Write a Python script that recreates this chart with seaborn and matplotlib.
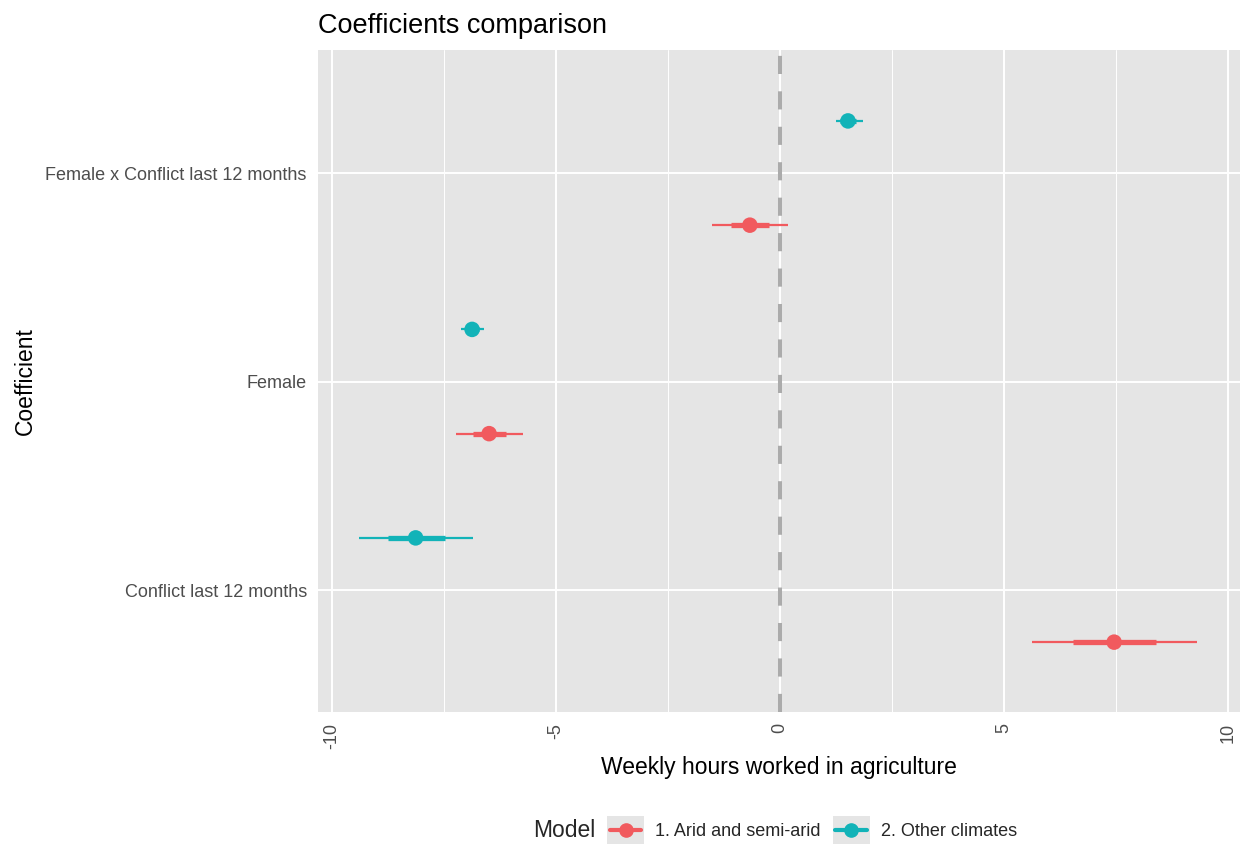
import numpy as np
import pandas as pd
import matplotlib
matplotlib.use("Agg")
import matplotlib.pyplot as plt
import seaborn as sns
from matplotlib.lines import Line2D
from matplotlib.patches import Rectangle
from matplotlib.legend_handler import HandlerBase

# ---- data ----
coefficients = ["Female x Conflict last 12 months", "Female", "Conflict last 12 months"]
models = ["1. Arid and semi-arid", "2. Other climates"]
estimate_arid = [-0.67, -6.49, 7.46]
inner_lo_arid = [-1.09, -6.85, 6.54]
inner_hi_arid = [-0.25, -6.12, 8.39]
outer_lo_arid = [-1.52, -7.23, 5.62]
outer_hi_arid = [0.17, -5.74, 9.31]
estimate_other = [1.52, -6.87, -8.13]
inner_lo_other = [1.35, -7.00, -8.75]
inner_hi_other = [1.70, -6.72, -7.48]
outer_lo_other = [1.25, -7.12, -9.40]
outer_hi_other = [1.85, -6.60, -6.85]
x_ticks = [-10, -5, 0, 5, 10]

colors = {models[0]: "#F15A5E", models[1]: "#12B3B8"}
dodge = {models[0]: 0.25, models[1]: -0.25}

rows = []
for m, est, ilo, ihi, olo, ohi in [
    (models[0], estimate_arid, inner_lo_arid, inner_hi_arid, outer_lo_arid, outer_hi_arid),
    (models[1], estimate_other, inner_lo_other, inner_hi_other, outer_lo_other, outer_hi_other),
]:
    for i, c in enumerate(coefficients):
        rows.append(dict(coef=c, model=m, est=est[i], ilo=ilo[i], ihi=ihi[i],
                         olo=olo[i], ohi=ohi[i], y=i + dodge[m]))
df = pd.DataFrame(rows)

sns.set_theme(style="darkgrid")
plt.rcParams["font.family"] = ["Liberation Sans", "DejaVu Sans"]
plt.rcParams["axes.unicode_minus"] = False

PANEL = "#E5E5E5"
fig = plt.figure(figsize=(12.44, 8.48), dpi=100)
ax = fig.add_axes([0.2556, 0.1604, 0.7412, 0.7806])
ax.set_facecolor(PANEL)

ax.set_xlim(-10.31, 10.27)
ax.set_ylim(2.585, -0.59)
ax.set_xticks(x_ticks)
ax.set_xticklabels([str(t) for t in x_ticks])
ax.set_xticks([-7.5, -2.5, 2.5, 7.5], minor=True)
ax.set_yticks(range(len(coefficients)))
ax.set_yticklabels(coefficients)
ax.grid(which="major", color="white", linewidth=1.4)
ax.grid(which="minor", axis="x", color="white", linewidth=0.7)
ax.set_axisbelow(True)
for s in ax.spines.values():
    s.set_visible(False)

ax.axvline(0, color="#ABABAB", linewidth=2.9, linestyle=(0, (4.5, 4.3)), zorder=1)

for m in models:
    d = df[df.model == m]
    ax.hlines(d.y, d.olo, d.ohi, color=colors[m], linewidth=1.6, zorder=2)
    ax.hlines(d.y, d.ilo, d.ihi, color=colors[m], linewidth=3.8, zorder=2)

sns.scatterplot(data=df, x="est", y="y", hue="model", palette=colors, s=125,
                edgecolor="none", ax=ax, legend=False, zorder=3)

ax.tick_params(axis="both", which="major", length=5, width=1.1, color="#333333",
               labelcolor="#4D4D4D", labelsize=13, pad=3)
ax.tick_params(axis="both", which="minor", length=0)
ax.tick_params(axis="x", labelrotation=90)

ax.set_xlabel("Weekly hours worked in agriculture", fontsize=16.5, color="black")
ax.xaxis.set_label_coords(0.5, -0.066)
ax.set_ylabel("Coefficient", fontsize=16.5, color="black")
ax.yaxis.set_label_coords(-0.305, 0.5)
ax.set_title("Coefficients comparison", fontsize=19.5, loc="left", pad=12, color="black")


class KeyHandler(HandlerBase):
    def create_artists(self, legend, orig_handle, xdescent, ydescent, width, height, fontsize, trans):
        col = orig_handle.get_color()
        cx = width / 2 - xdescent
        cy = height / 2 - ydescent
        hw = width / 2
        hh = height / 2
        rect = Rectangle((cx - hw, cy - hh), 2 * hw, 2 * hh,
                         facecolor=PANEL, edgecolor="none", transform=trans)
        ln = Line2D([cx - hw * 0.85, cx + hw * 0.85], [cy, cy], color=col, linewidth=3,
                    transform=trans)
        mk = Line2D([cx], [cy], marker="o", markersize=9.5, color=col, linestyle="none",
                    transform=trans)
        return [rect, ln, mk]


handles = [Line2D([], [], color=colors[m]) for m in models]
leg = fig.legend(handles, models, handler_map={Line2D: KeyHandler()}, loc="center left",
                 bbox_to_anchor=(0.488, 0.0212), ncol=2, frameon=False, fontsize=13,
                 handlelength=2.05, handleheight=2.05, handletextpad=0.61, columnspacing=0.66,
                 borderpad=0, borderaxespad=0)
fig.text(0.4285, 0.0212, "Model", fontsize=16.5, va="center", ha="left")

fig.savefig("out.png", dpi=100)
